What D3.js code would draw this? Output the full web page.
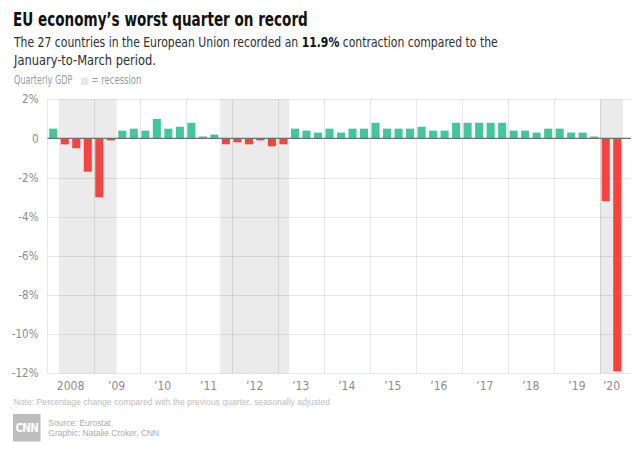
<!DOCTYPE html>
<html>
<head>
<meta charset="utf-8">
<script src="https://cdn.jsdelivr.net/npm/d3@7"></script>
<style>
  html, body { margin: 0; padding: 0; background: #ffffff; }
  svg { display: block; }
</style>
</head>
<body>
<svg id="chart" width="640" height="457"></svg>
<script>
// ---------------- DATA ----------------
const quarters = [
  "2008Q1","2008Q2","2008Q3","2008Q4",
  "2009Q1","2009Q2","2009Q3","2009Q4",
  "2010Q1","2010Q2","2010Q3","2010Q4",
  "2011Q1","2011Q2","2011Q3","2011Q4",
  "2012Q1","2012Q2","2012Q3","2012Q4",
  "2013Q1","2013Q2","2013Q3","2013Q4",
  "2014Q1","2014Q2","2014Q3","2014Q4",
  "2015Q1","2015Q2","2015Q3","2015Q4",
  "2016Q1","2016Q2","2016Q3","2016Q4",
  "2017Q1","2017Q2","2017Q3","2017Q4",
  "2018Q1","2018Q2","2018Q3","2018Q4",
  "2019Q1","2019Q2","2019Q3","2019Q4",
  "2020Q1","2020Q2"
];
const gdpGrowth = [
  0.5, -0.3, -0.5, -1.7,
  -3.0, -0.1, 0.4, 0.5,
  0.4, 1.0, 0.5, 0.6,
  0.8, 0.1, 0.2, -0.3,
  -0.2, -0.3, -0.1, -0.4,
  -0.3, 0.5, 0.4, 0.3,
  0.5, 0.3, 0.5, 0.5,
  0.8, 0.5, 0.5, 0.5,
  0.6, 0.4, 0.4, 0.8,
  0.8, 0.8, 0.8, 0.8,
  0.4, 0.4, 0.3, 0.5,
  0.5, 0.3, 0.3, 0.1,
  -3.2, -11.9
];
const years = ["2008","2009","2010","2011","2012","2013","2014","2015","2016","2017","2018","2019","2020"];
const yearLabels = ["2008","\u201909","\u201910","\u201911","\u201912","\u201913","\u201914","\u201915","\u201916","\u201917","\u201918","\u201919","\u201920"];
const recessions = [["2008Q2","2009Q2"], ["2011Q4","2013Q1"], ["2020Q1","2020Q2"]];
const yTicks = [2, 0, -2, -4, -6, -8, -10, -12];
const yTickLabels = ["2%", "0", "-2%", "-4%", "-6%", "-8%", "-10%", "-12%"];

const titleText = "EU economy\u2019s worst quarter on record";
const subtitleParts = [
  [{t:"The 27 countries in the European Union recorded an ", b:false}, {t:"11.9%", b:true}, {t:" contraction compared to the", b:false}],
  [{t:"January-to-March period.", b:false}]
];
const legendLabel = "Quarterly GDP";
const legendRecession = "= recession";
const noteText = "Note: Percentage change compared with the previous quarter, seasonally adjusted";
const sourceLines = ["Source: Eurostat", "Graphic: Natalie Croker, CNN"];

// ---------------- LAYOUT ----------------
const narrow = "'Liberation Sans Narrow','Arial Narrow','DejaVu Sans Condensed',sans-serif";
const plain = "'Liberation Sans',Arial,Helvetica,sans-serif";
const plotLeft = 47.5, plotBarsRight = 623, plotRight = 631;
const yTop = 99.3, yBottom = 373.3;

const svg = d3.select("#chart");

const x = d3.scaleBand().domain(quarters).range([plotLeft, plotBarsRight])
  .paddingInner(0.3).paddingOuter(0.15);
const step = x.step();
const qStart = q => x(q) - x.paddingOuter() * step;   // left boundary of a quarter slot
const qEnd = q => qStart(q) + step;

const y = d3.scaleLinear().domain([-12, 2]).range([yBottom, yTop]);

const green = "#43c79a", red = "#f4443e";
const grid = "rgba(0,0,0,0.095)";

// helper: fit text to width by horizontal scaling
function fit(sel, x0, yb, target) {
  const node = sel.node();
  const w = node.getComputedTextLength();
  const s = target ? target / w : 1;
  sel.attr("transform", `translate(${x0},${yb}) scale(${s},1)`);
}

// ---------------- TITLES ----------------
const title = svg.append("text").attr("x", 0).attr("y", 0)
  .attr("font-family", narrow).attr("font-weight", "bold").attr("font-size", 19)
  .attr("fill", "#111").text(titleText);
fit(title, 13, 25.5, 295);

const subW = [484, 142];
const subY = [46.5, 65];
subtitleParts.forEach((parts, i) => {
  const t = svg.append("text").attr("font-family", narrow).attr("font-size", 14.5).attr("fill", "#2e2e2e");
  parts.forEach(p => t.append("tspan").attr("font-weight", p.b ? "bold" : "normal").attr("fill", p.b ? "#111" : "#2e2e2e").text(p.t));
  fit(t, 14, subY[i], subW[i]);
});

// legend
const lg = svg.append("text").attr("font-family", narrow).attr("font-size", 11.5).attr("fill", "#9a9a9a").text(legendLabel);
fit(lg, 14, 84, 58.5);
svg.append("rect").attr("x", 81).attr("y", 77.5).attr("width", 7.5).attr("height", 7.5).attr("fill", "#e6e6e6");
const lr = svg.append("text").attr("font-family", narrow).attr("font-size", 11.5).attr("fill", "#9a9a9a").text(legendRecession);
fit(lr, 91.5, 84, 50);

// ---------------- PLOT ----------------
const g = svg.append("g");

// recession bands
g.selectAll("rect.rec").data(recessions).join("rect").attr("class", "rec")
  .attr("x", d => qStart(d[0]))
  .attr("width", d => qEnd(d[1]) - qStart(d[0]))
  .attr("y", yTop).attr("height", yBottom - yTop)
  .attr("fill", "#ebebeb");

// horizontal gridlines
g.selectAll("line.hg").data(yTicks.filter(v => v !== 0)).join("line").attr("class", "hg")
  .attr("x1", plotLeft).attr("x2", plotRight)
  .attr("y1", d => Math.round(y(d)) + 0.5).attr("y2", d => Math.round(y(d)) + 0.5)
  .attr("stroke", grid).attr("stroke-width", 1);

// vertical gridlines at year starts
g.selectAll("line.vg").data(years).join("line").attr("class", "vg")
  .attr("x1", d => Math.round(qStart(d + "Q1")) + 0.5).attr("x2", d => Math.round(qStart(d + "Q1")) + 0.5)
  .attr("y1", yTop).attr("y2", yBottom)
  .attr("stroke", grid).attr("stroke-width", 1);

// bars
g.selectAll("rect.bar").data(quarters).join("rect").attr("class", "bar")
  .attr("x", d => x(d))
  .attr("width", x.bandwidth())
  .attr("y", (d, i) => y(Math.max(0, gdpGrowth[i])))
  .attr("height", (d, i) => Math.abs(y(gdpGrowth[i]) - y(0)))
  .attr("fill", (d, i) => gdpGrowth[i] >= 0 ? green : red);

// zero line
g.append("line").attr("x1", plotLeft).attr("x2", plotRight)
  .attr("y1", y(0)).attr("y2", y(0)).attr("stroke", "#6e6e6e").attr("stroke-width", 1.3);

// y axis labels
const yAxis = d3.axisLeft(y).tickValues(yTicks).tickSize(0).tickPadding(0)
  .tickFormat((d, i) => yTickLabels[i]);
const ya = svg.append("g").attr("transform", `translate(38.5,0)`).call(yAxis);
ya.select(".domain").remove();
ya.selectAll("text").attr("font-family", narrow).attr("font-size", 11.5).attr("fill", "#8c8c8c");

// x axis labels at centre of each year's available quarters
const yearCenter = yr => {
  const qs = quarters.filter(q => q.startsWith(yr));
  return d3.mean(qs, q => x(q) + x.bandwidth() / 2);
};
const xAxisScale = d3.scaleOrdinal().domain(years).range(years.map(yearCenter));
svg.append("g").selectAll("text").data(years).join("text")
  .attr("x", d => xAxisScale(d)).attr("y", 390)
  .attr("text-anchor", "middle")
  .attr("font-family", narrow).attr("font-size", 12).attr("fill", "#8c8c8c")
  .text((d, i) => yearLabels[i]);

// ---------------- FOOTER ----------------
const note = svg.append("text").attr("font-family", plain).attr("font-size", 8.8).attr("fill", "#bdbdbd").text(noteText);
fit(note, 13.5, 405, 317);

svg.append("rect").attr("x", 13).attr("y", 414).attr("width", 27.5).attr("height", 27.5).attr("fill", "#bdbdbd");
svg.append("text").attr("x", 26.8).attr("y", 432).attr("text-anchor", "middle")
  .attr("font-family", narrow).attr("font-weight", "bold").attr("font-size", 11.5)
  .attr("letter-spacing", -0.8).attr("fill", "#ffffff").text("CNN");

const srcW = [62.5, 111];
sourceLines.forEach((s, i) => {
  const t = svg.append("text").attr("font-family", plain).attr("font-size", 8.8).attr("fill", "#ababab").text(s);
  fit(t, 48.3, 425.5 + i * 10, srcW[i]);
});
</script>
</body>
</html>
